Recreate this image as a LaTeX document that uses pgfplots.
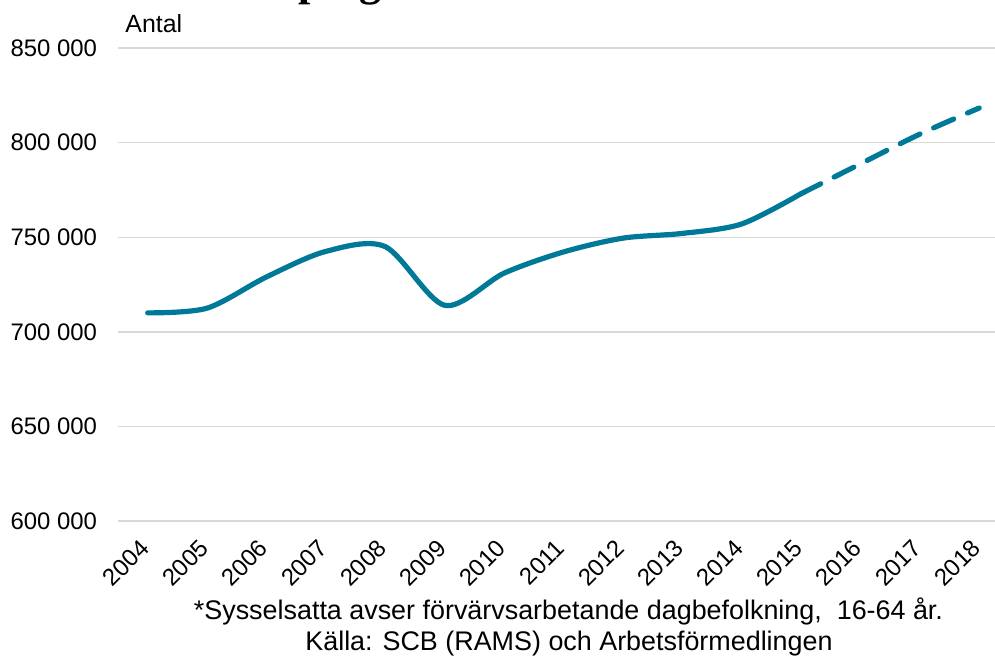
\documentclass[border=0pt]{standalone}
\usepackage{pgfplots}
\pgfplotsset{compat=1.18}
\usepackage{fontspec}
\setmainfont{Liberation Sans}
\newfontfamily\titlefont{Liberation Serif}

\definecolor{linje}{RGB}{0,120,152}
\definecolor{rutnat}{RGB}{217,217,217}

\begin{document}
\begin{tikzpicture}
\begin{axis}[
    at={(0,0)}, anchor=south west,
    scale only axis,
    width=445.5bp, height=236.5bp,
    xmin=2003.5, xmax=2018.5,
    ymin=600000, ymax=850000,
    xtick={2004,...,2018},
    xticklabels={2004,2005,2006,2007,2008,2009,2010,2011,2012,2013,2014,2015,2016,2017,2018},
    ytick={600000,650000,700000,750000,800000,850000},
    scaled y ticks=false,
    yticklabel style={/pgf/number format/fixed, /pgf/number format/precision=0,
        /pgf/number format/1000 sep={\ }, /pgf/number format/assume math mode=true,
        font=\fontsize{12}{14}\selectfont, anchor=east, xshift=-7bp},
    xticklabel style={font=\fontsize{12}{14}\selectfont, yshift=-9bp, xshift=1bp, rotate=45, anchor=east},
    axis line style={draw=none},
    major tick length=0pt,
    ymajorgrids,
    grid style={color=rutnat, line width=0.7bp},
    clip=false,
]
\addplot[color=linje, line width=2.6bp, line cap=round, smooth, tension=0.5] coordinates {
    (2004,710000) (2005,712500) (2006,729000) (2007,742500) (2008,745000)
    (2009,714000) (2010,731000) (2011,742200) (2012,749500) (2013,752000)
    (2014,757000) (2015,773000)
};
\addplot[color=linje, line width=2.6bp, line cap=round, dash pattern=on 11bp off 7.5bp, smooth, tension=0.5] coordinates {
    (2015,773000) (2016,788800) (2017,804500) (2018,818300)
};
\end{axis}
\node[anchor=base west, inner sep=0pt, font=\fontsize{12.5}{14}\selectfont] at (3.5bp,244bp) {Antal};
\node[anchor=base, inner sep=0pt, font=\fontsize{13.5}{15}\selectfont] at (225.25bp,-49bp)
    {*Sysselsatta avser förvärvsarbetande dagbefolkning,\ \ 16-64 år.};
\node[anchor=base, inner sep=0pt, font=\fontsize{13.5}{15}\selectfont] at (225.5bp,-64.5bp)
    {Källa: SCB (RAMS) och Arbetsförmedlingen};
\node[anchor=base east, inner sep=0pt, font=\titlefont\bfseries\fontsize{22}{26}\selectfont] at (90bp,262.5bp) {Sysselsatta i Jönkö};
\node[anchor=base west, inner sep=0pt, font=\titlefont\bfseries\fontsize{22}{26}\selectfont] at (90bp,262.5bp) {pings län};
\pgfresetboundingbox
\path[use as bounding box] (-59bp,-68bp) rectangle (438.5bp,260.5bp);
\end{tikzpicture}
\end{document}
